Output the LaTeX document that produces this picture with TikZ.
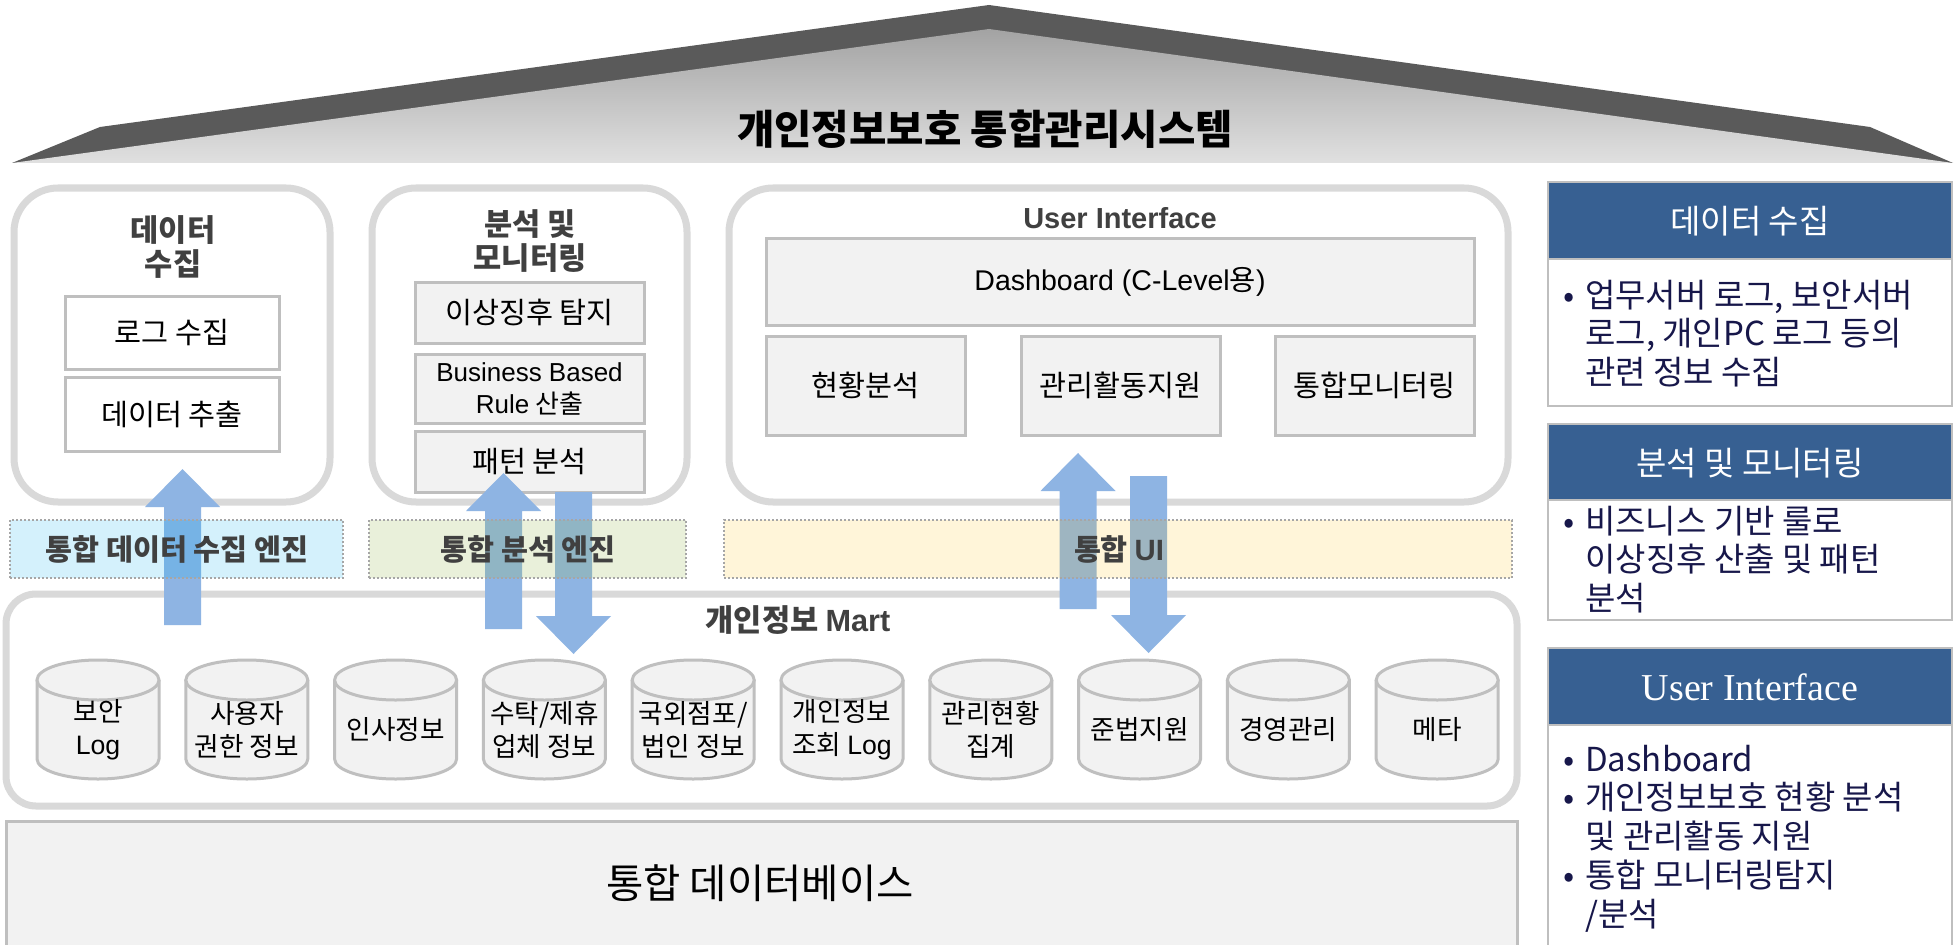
\documentclass[tikz,border=0pt]{standalone}
\usepackage{fontspec}
\setmainfont{Noto Sans CJK KR}
\newfontfamily\latin{Liberation Sans}
\newfontfamily\latinserif{Liberation Serif}
\usetikzlibrary{calc,fit}

\definecolor{roofdark}{HTML}{5A5A5A}
\definecolor{rooftop}{HTML}{A3A3A3}
\definecolor{roofbot}{HTML}{E0E0E0}
\definecolor{framegrey}{HTML}{D9D9D9}
\definecolor{cellgrey}{HTML}{BFBFBF}
\definecolor{cellfill}{HTML}{F2F2F2}
\definecolor{titlegrey}{HTML}{404040}
\definecolor{arrowblue}{HTML}{8EB4E3}
\definecolor{panelblue}{HTML}{376092}
\definecolor{inkblue}{HTML}{17174A}
\definecolor{stripline}{HTML}{A6A6A6}
\definecolor{stripblue}{HTML}{00B0F0}
\definecolor{stripgreen}{HTML}{9BBB59}
\definecolor{stripgold}{HTML}{FFC000}

\newcommand\fs[2]{\fontsize{#1}{#2}\selectfont}

% vertical block arrow from tail coordinate #1 to tip coordinate #2
\newcommand\blockarrow[2]{%
  \fill[flowarrow]
    ($(#1)+(-18.5,0)$) -- ($(#2)!28.5pt!(#1)+(-18.5,0)$) --
    ($(#2)!28.5pt!(#1)+(-37.5,0)$) -- (#2) --
    ($(#2)!28.5pt!(#1)+(37.5,0)$) -- ($(#2)!28.5pt!(#1)+(18.5,0)$) --
    ($(#1)+(18.5,0)$) -- cycle;}

% database cylinder: name, centre x, label
\newcommand\dbcyl[3]{%
  \fill[cellfill] (#2-61,680) rectangle (#2+61,759);
  \fill[cellfill] (#2,759) ellipse (61 and 20);
  \draw[cylline] (#2-61,680) -- (#2-61,759) arc (180:0:61 and 20) -- (#2+61,680);
  \draw[cylline, fill=cellfill] (#2,680) ellipse (61 and 20);
  \node[cyltxt] (#1) at (#2,730) {#3};}

\begin{document}
\begin{tikzpicture}[x=0.75pt,y=-0.75pt,
  colframe/.style={draw=framegrey, line width=5.25pt, fill=white, rounded corners=33pt, inner sep=0pt, outer sep=0pt},
  cellbox/.style={draw=cellgrey, line width=2.25pt, fill=cellfill, inner sep=0pt},
  whitecell/.style={cellbox, fill=white},
  celltxt/.style={align=center, font=\fs{22pt}{24pt}, text=black, inner sep=0pt},
  cylline/.style={draw=cellgrey, line width=2.25pt},
  cyltxt/.style={align=center, font=\fs{20pt}{25pt}, text=black, inner sep=0pt},
  coltitle/.style={align=center, font=\fs{23pt}{25.5pt}\bfseries, text=titlegrey, inner sep=0pt},
  flowarrow/.style={fill=arrowblue},
  enginestrip/.style={draw=stripline, line width=1.5pt, dash pattern=on 1.5pt off 1.5pt, fill opacity=0.17, inner sep=0pt},
  striptxt/.style={font=\fs{22pt}{24pt}\bfseries, text=titlegrey, inner sep=0pt},
  panelhead/.style={fill=panelblue, draw=cellgrey, line width=1.2pt, inner sep=0pt},
  panelbody/.style={fill=white, draw=cellgrey, line width=1.2pt, inner sep=0pt},
  headtxt/.style={font=\fs{24.75pt}{28pt}, text=white, inner sep=0pt},
  bullettxt/.style={font=\fs{24.75pt}{28.5pt}, text=inkblue, inner sep=0pt, anchor=base west}
]
\useasboundingbox (0,0) rectangle (1955,945);
\fill[white] (0,0) rectangle (1955,945);

% roof
\fill[roofdark] (12,163) -- (100,127) -- (989,5) -- (1870,127) -- (1953,163) -- cycle;
\shade[top color=rooftop, bottom color=roofbot] (12,163) -- (989,29) -- (1953,163) -- cycle;
\node[font=\fs{30.5pt}{33pt}\bfseries, text=black] (system) at (985,129) {개인정보보호 통합관리시스템};

% upper column frames
\node[colframe, fit={(14,188) (330,502)}] (collect) {};
\node[colframe, fit={(372,188) (687,502)}] (analysis) {};
\node[colframe, fit={(729,188) (1508,502)}] (ui) {};

\node[coltitle] (collect-t) at (173,247) {데이터\\수집};
\node[coltitle] (analysis-t) at (530,241) {분석 및\\모니터링};
\node[coltitle, font=\latin\fs{21.75pt}{25pt}\bfseries] (ui-t) at (1120,218) {User Interface};

% data collection cells
\node[whitecell, fit={(65,296) (279,369)}] (logcol) {};
\node[whitecell, fit={(65,377) (279,451)}] (extract) {};
\node[celltxt] at (logcol.center) {로그 수집};
\node[celltxt] at (extract.center) {데이터 추출};

% analysis cells
\node[cellbox, fit={(415,282) (644,343)}] (anomaly) {};
\node[cellbox, fit={(415,354) (644,423)}] (rule) {};
\node[cellbox, fit={(415,431) (644,492)}] (pattern) {};
\node[celltxt] at (anomaly.center) {이상징후 탐지};
\node[celltxt, font=\fs{19.5pt}{24pt}] at (rule.center) {{\latin Business Based}\\{\latin Rule} 산출};
\node[celltxt] at (pattern.center) {패턴 분석};

% user interface cells
\node[cellbox, fit={(766,238) (1474,325)}] (dash) {};
\node[cellbox, fit={(766,336) (965,435)}] (status) {};
\node[cellbox, fit={(1021,336) (1220,435)}] (support) {};
\node[cellbox, fit={(1275,336) (1474,435)}] (monitor) {};
\node[celltxt, font=\fs{21.4pt}{24pt}] at (dash.center) {{\latin Dashboard (C-Level}용{\latin )}};
\node[celltxt] at (status.center) {현황분석};
\node[celltxt] at (support.center) {관리활동지원};
\node[celltxt] at (monitor.center) {통합모니터링};

% personal data mart
\node[colframe, rounded corners=22.5pt, fit={(6,594) (1517,806)}] (mart) {};
\node[coltitle] (mart-t) at (798,620) {개인정보 {\latin Mart}};

\dbcyl{db1}{98}{보안\\{\latin Log}}
\dbcyl{db2}{246.8}{사용자\\권한 정보}
\dbcyl{db3}{395.6}{인사정보}
\dbcyl{db4}{544.4}{수탁/제휴\\업체 정보}
\dbcyl{db5}{693.2}{국외점포/\\법인 정보}
\dbcyl{db6}{842}{개인정보\\조회 {\latin Log}}
\dbcyl{db7}{990.8}{관리현황\\집계}
\dbcyl{db8}{1139.6}{준법지원}
\dbcyl{db9}{1288.4}{경영관리}
\dbcyl{db10}{1437.2}{메타}

% integrated database
\node[cellbox, fit={(6,821) (1517,960)}] (db) {};
\node[font=\fs{30.4pt}{32pt}, text=black] (db-t) at (760,883) {통합 데이터베이스};

% data flow arrows between the mart and the upper columns
\coordinate (a1s) at (182.5,625);  \coordinate (a1e) at (182.5,469);
\coordinate (a2s) at (503.5,629);  \coordinate (a2e) at (503.5,473);
\coordinate (a3s) at (573.5,492);  \coordinate (a3e) at (573.5,654);
\coordinate (a4s) at (1078,609);   \coordinate (a4e) at (1078,453);
\coordinate (a5s) at (1148.5,476); \coordinate (a5e) at (1148.5,653);
\blockarrow{a1s}{a1e}
\blockarrow{a2s}{a2e}
\blockarrow{a3s}{a3e}
\blockarrow{a4s}{a4e}
\blockarrow{a5s}{a5e}

% engine strips (tinted, over the arrows)
\node[enginestrip, fill=stripblue, fit={(10,520) (343,578)}] (eng1) {};
\node[enginestrip, fill=stripgreen, fill opacity=0.22, fit={(369,520) (686,578)}] (eng2) {};
\node[enginestrip, fill=stripgold, fill opacity=0.15, fit={(724,520) (1512,578)}] (eng3) {};
\node[striptxt] (eng1-t) at (177,549) {통합 데이터 수집 엔진};
\node[striptxt] (eng2-t) at (528,549) {통합 분석 엔진};
\node[striptxt] (eng3-t) at (1119,549) {통합 {\latin UI}};

% side legend panels
\node[panelbody, fit={(1548,259) (1952,406)}] (p1) {};
\node[panelhead, fit={(1548,182) (1952,259)}] (h1) {};
\node[headtxt] (h1-t) at (1750,221) {데이터 수집};
\node[bullettxt] (p1-t) at (1563,307) {\begin{tabular}[t]{@{}p{16.5pt}@{}l@{}}
• & 업무서버 로그, 보안서버\\
  & 로그, 개인PC 로그 등의\\
  & 관련 정보 수집
\end{tabular}};

\node[panelbody, fit={(1548,500) (1952,620)}] (p2) {};
\node[panelhead, fit={(1548,424) (1952,500)}] (h2) {};
\node[headtxt] (h2-t) at (1750,463) {분석 및 모니터링};
\node[bullettxt] (p2-t) at (1563,533) {\begin{tabular}[t]{@{}p{16.5pt}@{}l@{}}
• & 비즈니스 기반 룰로\\
  & 이상징후 산출 및 패턴\\
  & 분석
\end{tabular}};

\node[panelbody, fit={(1548,725) (1952,960)}] (p3) {};
\node[panelhead, fit={(1548,648) (1952,725)}] (h3) {};
\node[headtxt, font=\latinserif\fs{28.5pt}{30pt}] (h3-t) at (1750,687) {User Interface};
\node[bullettxt] (p3-t) at (1563,771) {\begin{tabular}[t]{@{}p{16.5pt}@{}l@{}}
• & Dashboard\\
• & 개인정보보호 현황 분석\\
  & 및 관리활동 지원\\
• & 통합 모니터링탐지\\
  & /분석
\end{tabular}};
\end{tikzpicture}
\end{document}
